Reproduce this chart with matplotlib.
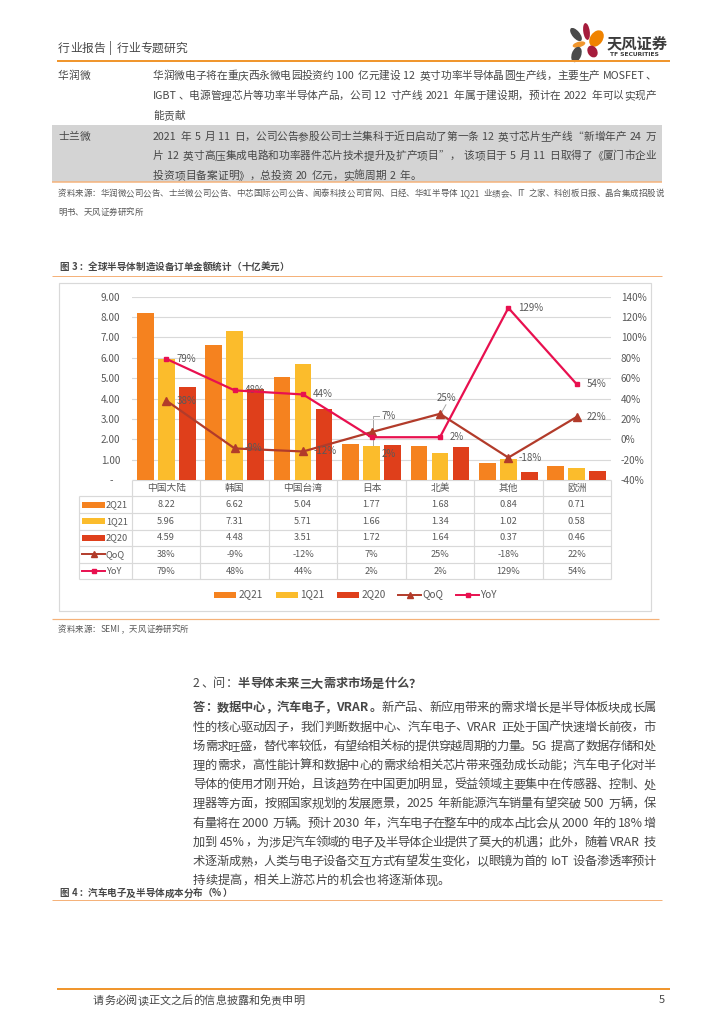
import re

import numpy as np
import matplotlib
matplotlib.use("Agg")
import matplotlib.pyplot as plt
from matplotlib.patches import Rectangle, Ellipse

plt.rcParams['font.family'] = ['Noto Sans CJK SC', 'DejaVu Sans']

# -----------------------------
# Data (图 3, 十亿美元 / %)
# -----------------------------
categories = ['中国大陆', '韩国', '中国台湾', '日本', '北美', '其他', '欧洲']
orders_2q21 = [8.22, 6.62, 5.04, 1.77, 1.68, 0.84, 0.71]
orders_1q21 = [5.96, 7.31, 5.71, 1.66, 1.34, 1.02, 0.58]
orders_2q20 = [4.59, 4.48, 3.51, 1.72, 1.64, 0.37, 0.46]
qoq_pct = [38, -9, -12, 7, 25, -18, 22]
yoy_pct = [79, 48, 44, 2, 2, 129, 54]
left_ticks = [0, 1, 2, 3, 4, 5, 6, 7, 8, 9]
right_ticks = [-40, -20, 0, 20, 40, 60, 80, 100, 120, 140]

# -----------------------------
# Page text
# -----------------------------
row1_lines = [
    "华润微电子将在重庆西永微电园投资约 100 亿元建设 12 英寸功率半导体晶圆生产线，主要生产 MOSFET、",
    "IGBT、电源管理芯片等功率半导体产品，公司 12 寸产线 2021 年属于建设期，预计在 2022 年可以实现产",
    "能贡献",
]
row2_lines = [
    "2021 年 5 月 11 日，公司公告参股公司士兰集科于近日启动了第一条 12 英寸芯片生产线“新增年产 24 万",
    "片 12 英寸高压集成电路和功率器件芯片技术提升及扩产项目”， 该项目于 5 月 11 日取得了《厦门市企业",
    "投资项目备案证明》，总投资 20 亿元，实施周期 2 年。",
]
source1_lines = [
    "资料来源：华润微公司公告、士兰微公司公告、中芯国际公司公告、闻泰科技公司官网、日经、华虹半导体 1Q21 业绩会、IT 之家、科创板日报、晶合集成招股说",
    "明书、天风证券研究所",
]
para_lines = [
    [("答：数据中心，汽车电子，VRAR。", True), ("新产品、新应用带来的需求增长是半导体板块成长属", False)],
    [("性的核心驱动因子，我们判断数据中心、汽车电子、VRAR 正处于国产快速增长前夜，市", False)],
    [("场需求旺盛，替代率较低，有望给相关标的提供穿越周期的力量。5G 提高了数据存储和处", False)],
    [("理的需求，高性能计算和数据中心的需求给相关芯片带来强劲成长动能；汽车电子化对半", False)],
    [("导体的使用才刚开始，且该趋势在中国更加明显，受益领域主要集中在传感器、控制、处", False)],
    [("理器等方面，按照国家规划的发展愿景，2025 年新能源汽车销量有望突破 500 万辆，保", False)],
    [("有量将在 2000 万辆。预计 2030 年，汽车电子在整车中的成本占比会从 2000 年的 18%增", False)],
    [("加到 45%，为涉足汽车领域的电子及半导体企业提供了莫大的机遇；此外，随着 VRAR 技", False)],
    [("术逐渐成熟，人类与电子设备交互方式有望发生变化，以眼镜为首的 IoT 设备渗透率预计", False)],
    [("持续提高，相关上游芯片的机会也将逐渐体现。", False)],
]

C_2Q21 = '#F5821F'
C_1Q21 = '#FBBC2C'
C_2Q20 = '#DF3F1B'
C_QOQ = '#B23B2A'
C_YOY = '#E8104F'
C_TXT = '#474747'
C_CHT = '#595959'
C_GRID = '#D9D9D9'
C_ORANGE = '#F0962E'

W, H = 724, 1024
PX = 0.72  # points per pixel at dpi 100

fig = plt.figure(figsize=(W / 100, H / 100), dpi=100)
pg = fig.add_axes([0, 0, 1, 1])
pg.set_xlim(0, W)
pg.set_ylim(H, 0)
pg.axis('off')
renderer = fig.canvas.get_renderer()


def hline(x0, x1, y, color, lw=1.0):
    pg.plot([x0, x1], [y, y], color=color, lw=lw * PX, solid_capstyle='butt')


def vline(x, y0, y1, color, lw=1.0):
    pg.plot([x, x], [y0, y1], color=color, lw=lw * PX, solid_capstyle='butt')


def put_line(parts, x0, yc, size, color=C_TXT, x1=None):
    """Lay out one line token by token; stretch it to x1 if given."""
    em = size / PX
    yb = yc + 0.36 * em
    toks = []
    for s, bold in parts:
        for m in re.finditer(r"[A-Za-z0-9%.\-]+|\s|.", s):
            toks.append((m.group(), bold))
    arts, widths = [], []
    for tok, bold in toks:
        if tok.isspace():
            arts.append(None)
            widths.append(0.3 * em)
            continue
        t = pg.text(0, yb, tok, fontsize=size, color=color,
                    fontweight='bold' if bold else 'light',
                    ha='left', va='baseline')
        arts.append(t)
        if ord(tok[0]) >= 0x2E80:
            widths.append(em)
        else:
            widths.append(t.get_window_extent(renderer).width + 0.1 * em)
    gap = 0.0
    if x1 is not None and len(toks) > 1:
        gap = (x1 - x0 - sum(widths)) / (len(toks) - 1)
    x = x0
    for t, w in zip(arts, widths):
        if t is not None:
            t.set_x(x)
        x += w + gap


# -----------------------------
# Header + logo
# -----------------------------
put_line([("行业报告 | 行业专题研究", False)], 58, 48, 8.5)
hline(57, 670, 61, C_ORANGE, 2)

petals = [
    (576.0, 34.5, 7.5, 16, -40, '#4A4A4A'),
    (586.5, 31.5, 6.5, 17, -8, '#A61C3C'),
    (579.0, 44.5, 13, 5.5, -15, C_ORANGE),
    (596.5, 38.5, 12.5, 18, 35, '#F08300'),
    (576.5, 54.5, 9.5, 16, 20, '#4A4A4A'),
    (592.5, 51.5, 9.5, 12.5, -30, '#A61C3C'),
]
for cx, cy, w, h, ang, col in petals:
    pg.add_patch(Ellipse((cx, cy), w, h, angle=ang, color=col, lw=0))
pg.text(607, 43, "天风证券", fontsize=11, fontweight='bold', color='#3C3C3C',
        ha='left', va='center')
pg.text(610, 55, "TF SECURITIES", fontsize=4.3, fontweight='bold',
        color='#3C3C3C', ha='left', va='center', family='DejaVu Sans')

# -----------------------------
# Table rows above the chart
# -----------------------------
pg.add_patch(Rectangle((52, 125), 610, 57, color='#D4D4D4', lw=0))
hline(52, 662, 182, '#F5B27A', 1.5)

put_line([("华润微", False)], 58, 75, 7.7)
for i, s in enumerate(row1_lines):
    put_line([(s, False)], 153, 75 + 20 * i, 7.7,
             x1=656 if i < len(row1_lines) - 1 else None)
put_line([("士兰微", False)], 58, 136, 7.7)
for i, s in enumerate(row2_lines):
    put_line([(s, False)], 153, 136 + 19.5 * i, 7.7,
             x1=656 if i < len(row2_lines) - 1 else None)

put_line([(source1_lines[0], False)], 58, 193, 6.1, color=C_CHT, x1=664)
put_line([(source1_lines[1], False)], 58, 212, 6.1, color=C_CHT)

# -----------------------------
# Figure 3
# -----------------------------
put_line([("图 3：全球半导体制造设备订单金额统计（十亿美元）", True)], 59, 266.5, 6.9)
hline(52, 662, 276, '#F5B27A', 1)
pg.add_patch(Rectangle((59, 283), 592, 328, fill=False, ec=C_GRID, lw=1.2 * PX))

L, R, T, B = 132, 611, 296.7, 480
ax = fig.add_axes([L / W, 1 - B / H, (R - L) / W, (B - T) / H])
ax.patch.set_alpha(0)
x = np.arange(len(categories))
bw, step = 0.244, 0.307
ax.bar(x - step, orders_2q21, bw, color=C_2Q21, zorder=2)
ax.bar(x, orders_1q21, bw, color=C_1Q21, zorder=2)
ax.bar(x + step, orders_2q20, bw, color=C_2Q20, zorder=2)
ax.set_xlim(-0.5, len(categories) - 0.5)
ax.set_ylim(left_ticks[0], left_ticks[-1])
ax.set_yticks(left_ticks)
ax.set_yticklabels(['-   ' if t == 0 else f"{t:.2f}" for t in left_ticks])
ax.set_xticks([])
ax.tick_params(axis='y', length=0, pad=8.6, labelsize=7.2, labelcolor=C_CHT)
ax.grid(axis='y', color=C_GRID, lw=0.8)
ax.set_axisbelow(True)
for sp in ax.spines.values():
    sp.set_visible(False)

ax2 = ax.twinx()
ax2.set_ylim(right_ticks[0], right_ticks[-1])
ax2.set_yticks(right_ticks)
ax2.set_yticklabels([f"{t}%" for t in right_ticks])
ax2.tick_params(axis='y', length=0, pad=7, labelsize=7.2, labelcolor=C_CHT)
for sp in ax2.spines.values():
    sp.set_visible(False)
ax2.plot(x, qoq_pct, color=C_QOQ, lw=1.6, marker='^', ms=5.5, zorder=3)
ax2.plot(x, yoy_pct, color=C_YOY, lw=1.6, marker='s', ms=3.2, zorder=4)

# label offsets in pixels (dx, dy, ha)
qoq_off = [(10, 0, 'left')] * 7
yoy_off = [(10, 0, 'left')] * 7
qoq_off[3] = (10, -16, 'left')
yoy_off[3] = (10, 17, 'left')
qoq_off[4] = (7, -16, 'center')
for vals, offs in ((qoq_pct, qoq_off), (yoy_pct, yoy_off)):
    for i, v in enumerate(vals):
        dx, dy, ha = offs[i]
        ax2.annotate(f"{v}%", (x[i], v), xytext=(dx * PX, -dy * PX),
                     textcoords='offset points', ha=ha, va='center',
                     fontsize=7, color=C_CHT)


def to_page(i, v):
    px, py = ax2.transData.transform((i, v))
    return px, H - py


# leader lines (日本 bracket, 北美 tick)
jx, jq = to_page(3, qoq_pct[3])
_, jy = to_page(3, yoy_pct[3])
bx = jx + 1.5
pg.plot([bx + 6, bx, bx], [jq - 16, jq - 16, jq], color='#A6A6A6', lw=0.7, zorder=5)
pg.plot([bx, bx, bx + 6], [jy, jy + 17, jy + 17], color='#A6A6A6', lw=0.7, zorder=5)
nx, ny = to_page(4, qoq_pct[4])
pg.plot([nx + 2, nx + 6], [ny - 2, ny - 9], color='#A6A6A6', lw=0.7, zorder=5)

# data table under the chart
cw = (R - L) / len(categories)
t_top, rh = 496.3, 16.6
t_bot = t_top + 5 * rh
hline(L, R, B, C_GRID, 1.2)
for k in range(len(categories) + 1):
    vline(L + k * cw, B, t_bot, C_GRID, 1.2)
vline(79, t_top, t_bot, C_GRID, 1.2)
for j in range(6):
    hline(79, R, t_top + j * rh, C_GRID, 1.2)

for i, c in enumerate(categories):
    pg.text(L + (i + 0.5) * cw, (B + t_top) / 2, c, fontsize=7, color=C_CHT,
            ha='center', va='center')

rows = [
    ('2Q21', orders_2q21, C_2Q21, 'bar', '{:.2f}'),
    ('1Q21', orders_1q21, C_1Q21, 'bar', '{:.2f}'),
    ('2Q20', orders_2q20, C_2Q20, 'bar', '{:.2f}'),
    ('QoQ', qoq_pct, C_QOQ, 'tri', '{}%'),
    ('YoY', yoy_pct, C_YOY, 'sq', '{}%'),
]

for j, (name, vals, col, kind, fmt) in enumerate(rows):
    yc = t_top + (j + 0.5) * rh
    if kind == 'bar':
        pg.add_patch(Rectangle((82, yc - 3), 23, 6, color=col, lw=0))
    else:
        pg.plot([82, 105], [yc, yc], color=col, lw=1.4)
        pg.plot([93.5], [yc], color=col, ls='none',
                marker='^' if kind == 'tri' else 's',
                ms=5 if kind == 'tri' else 3)
    pg.text(106, yc, name, fontsize=6.6, color=C_CHT, ha='left', va='center')
    for i, v in enumerate(vals):
        pg.text(L + (i + 0.5) * cw, yc, fmt.format(v), fontsize=6.6,
                color=C_CHT, ha='center', va='center')

# legend
leg_y = 594.5
leg_items = [(214, '2Q21', C_2Q21, 'bar'), (276, '1Q21', C_1Q21, 'bar'),
             (337, '2Q20', C_2Q20, 'bar'), (398, 'QoQ', C_QOQ, 'tri'),
             (456, 'YoY', C_YOY, 'sq')]
for lx, name, col, kind in leg_items:
    if kind == 'bar':
        pg.add_patch(Rectangle((lx, leg_y - 3), 22, 6, color=col, lw=0))
    else:
        pg.plot([lx, lx + 23], [leg_y, leg_y], color=col, lw=1.4)
        pg.plot([lx + 11.5], [leg_y], color=col, ls='none',
                marker='^' if kind == 'tri' else 's',
                ms=5 if kind == 'tri' else 3)
    pg.text(lx + 24.5, leg_y, name, fontsize=7.2, color=C_CHT,
            ha='left', va='center')

hline(52, 659, 618.5, '#F5B27A', 1.2)
put_line([("资料来源：SEMI，天风证券研究所", False)], 58, 629, 6.1, color=C_CHT)

# -----------------------------
# Q&A paragraph
# -----------------------------
put_line([("2、问：", False), ("半导体未来三大需求市场是什么？", True)], 193, 683, 8.8)
for i, parts in enumerate(para_lines):
    put_line(parts, 193, 707 + 19.2 * i, 8.8,
             x1=656 if i < len(para_lines) - 1 else None)

put_line([("图 4：汽车电子及半导体成本分布（%）", True)], 59, 893, 6.9)
hline(52, 662, 900, '#F5B27A', 1)

# footer
hline(57, 670, 988.5, C_ORANGE, 2)
put_line([("请务必阅读正文之后的信息披露和免责申明", False)], 93, 1000, 8)
pg.text(665, 1000, "5", fontsize=8, color=C_TXT, ha='right', va='center')

fig.savefig("out.png", dpi=100)
